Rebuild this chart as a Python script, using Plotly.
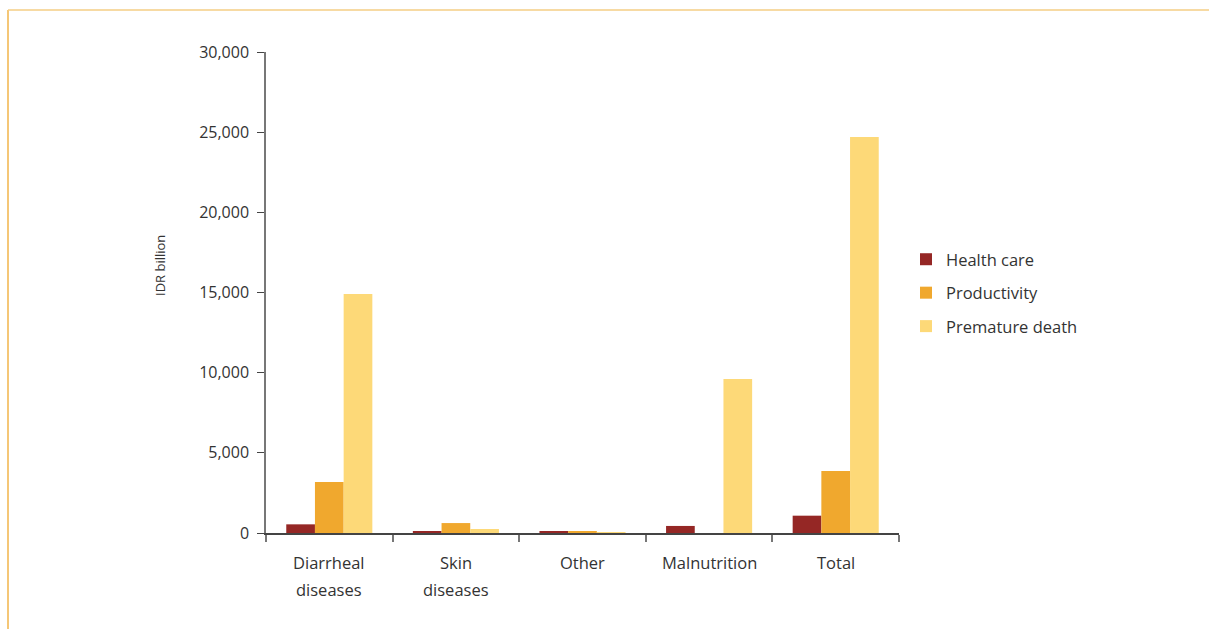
import plotly.graph_objects as go

categories = ["Diarrheal<br>diseases", "Skin<br>diseases", "Other", "Malnutrition", "Total"]
health_care = [540, 80, 70, 440, 1080]
productivity = [3180, 620, 80, 0, 3870]
premature_death = [14900, 250, 50, 9600, 24700]
y_ticks = [0, 5000, 10000, 15000, 20000, 25000, 30000]

W, H = 1209, 629
L, R, T, B = 266, 899, 52, 533

def px(x):
    return (x - L) / (R - L)

def py(y):
    return (B - y) / (B - T)

fig = go.Figure()
series = [("Health care", health_care, "#952725"),
          ("Productivity", productivity, "#F0A82E"),
          ("Premature death", premature_death, "#FDD978")]
for name, vals, col in series:
    fig.add_trace(go.Bar(x=categories, y=vals, name=name, marker_color=col,
                         marker_line_width=0, legendgroup=name))

fig.update_layout(
    width=W, height=H,
    margin=dict(l=L, r=W - R, t=T, b=H - B),
    paper_bgcolor="white", plot_bgcolor="white",
    barmode="group", bargap=0.32, bargroupgap=0,
    font=dict(family="Open Sans", size=15, color="#333"),
    legend=dict(x=px(906), y=py(242), xanchor="left", yanchor="top",
                font=dict(size=16.5, color="#333"), tracegroupgap=9,
                bgcolor="rgba(0,0,0,0)"),
    showlegend=True,
)
fig.update_xaxes(showline=True, linecolor="#444", linewidth=1.5,
                 ticks="outside", tickson="boundaries", ticklen=7, tickcolor="#777",
                 tickwidth=2, showgrid=False, showticklabels=False)
fig.update_yaxes(range=[0, 30000], tickvals=y_ticks, tickformat=",",
                 showline=True, linecolor="#777", linewidth=1.5,
                 ticks="outside", ticklen=7, tickcolor="#444", showgrid=False,
                 zeroline=False, ticklabelstandoff=5,
                 tickfont=dict(size=16, color="#333"))

# category labels, one annotation per line
for cat in categories:
    for i, line in enumerate(cat.split("<br>")):
        fig.add_annotation(x=cat, xref="x", y=py(562 + 27 * i), yref="paper",
                           text=line, showarrow=False, xanchor="center", yanchor="middle",
                           font=dict(size=16.5, color="#333"))

# y-axis title
fig.add_annotation(x=px(160), xref="paper", y=py(266), yref="paper",
                   text="IDR billion", textangle=-90, showarrow=False,
                   xanchor="center", yanchor="middle",
                   font=dict(size=13, color="#333"))

fig.add_shape(type="line", xref="paper", yref="paper",
              x0=px(8), x1=px(8), y0=py(629), y1=py(10),
              line=dict(color="#F2B54A", width=1.5))
fig.add_shape(type="line", xref="paper", yref="paper",
              x0=px(8), x1=px(1209), y0=py(10), y1=py(10),
              line=dict(color="#F4CE84", width=1.5))

fig.write_html("out.html")
